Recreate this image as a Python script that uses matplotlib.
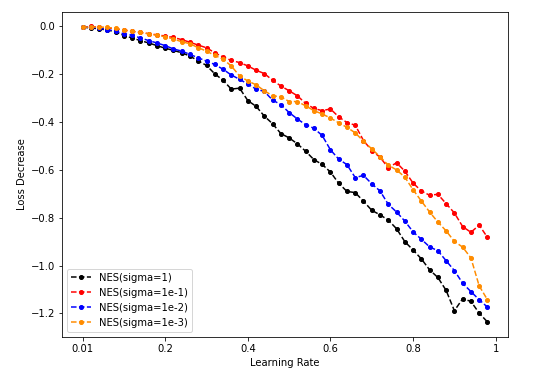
import matplotlib
matplotlib.use("Agg")
import matplotlib.pyplot as plt

# -----------------------------
# Datos
# -----------------------------
lr = [0.00, 0.02, 0.04, 0.06, 0.08, 0.10, 0.12, 0.14, 0.16, 0.18,
      0.20, 0.22, 0.24, 0.26, 0.28, 0.30, 0.32, 0.34, 0.36, 0.38,
      0.40, 0.42, 0.44, 0.46, 0.48, 0.50, 0.52, 0.54, 0.56, 0.58,
      0.60, 0.62, 0.64, 0.66, 0.68, 0.70, 0.72, 0.74, 0.76, 0.78,
      0.80, 0.82, 0.84, 0.86, 0.88, 0.90, 0.92, 0.94, 0.96, 0.98]

sigma_1 = [-0.003, -0.006, -0.010, -0.015, -0.022, -0.038, -0.048, -0.059, -0.069, -0.080,
           -0.091, -0.100, -0.110, -0.124, -0.144, -0.163, -0.198, -0.225, -0.262, -0.258,
           -0.310, -0.334, -0.375, -0.407, -0.448, -0.466, -0.491, -0.522, -0.557, -0.577,
           -0.609, -0.656, -0.690, -0.695, -0.731, -0.769, -0.788, -0.810, -0.846, -0.900,
           -0.935, -0.972, -1.018, -1.050, -1.104, -1.189, -1.139, -1.150, -1.199, -1.236]

sigma_1e1 = [-0.003, 0.000, -0.003, -0.006, -0.010, -0.015, -0.020, -0.025, -0.030, -0.035,
             -0.040, -0.046, -0.055, -0.066, -0.078, -0.089, -0.110, -0.128, -0.142, -0.151,
             -0.165, -0.183, -0.197, -0.225, -0.249, -0.269, -0.290, -0.322, -0.343, -0.352,
             -0.345, -0.378, -0.402, -0.413, -0.477, -0.519, -0.547, -0.591, -0.570, -0.605,
             -0.655, -0.688, -0.706, -0.702, -0.741, -0.780, -0.837, -0.861, -0.831, -0.882]

sigma_1e2 = [-0.003, -0.004, -0.006, -0.013, -0.020, -0.031, -0.037, -0.048, -0.059, -0.069,
             -0.080, -0.094, -0.103, -0.117, -0.131, -0.145, -0.159, -0.179, -0.203, -0.221,
             -0.241, -0.262, -0.272, -0.308, -0.327, -0.360, -0.387, -0.411, -0.426, -0.456,
             -0.516, -0.555, -0.578, -0.632, -0.623, -0.658, -0.688, -0.744, -0.776, -0.814,
             -0.859, -0.890, -0.922, -0.938, -0.980, -1.021, -1.074, -1.109, -1.143, -1.174]

sigma_1e3 = [-0.003, -0.002, -0.003, -0.004, -0.008, -0.015, -0.020, -0.025, -0.031, -0.037,
             -0.043, -0.052, -0.064, -0.072, -0.089, -0.103, -0.121, -0.137, -0.165, -0.207,
             -0.228, -0.244, -0.269, -0.290, -0.294, -0.314, -0.314, -0.332, -0.352, -0.366,
             -0.383, -0.403, -0.422, -0.445, -0.480, -0.512, -0.545, -0.580, -0.600, -0.630,
             -0.683, -0.730, -0.776, -0.818, -0.855, -0.899, -0.923, -0.968, -1.085, -1.143]

tick_pos = [0.0, 0.2, 0.4, 0.6, 0.8, 1.0]
tick_labels = ["0.01", "0.2", "0.4", "0.6", "0.8", "1"]

# -----------------------------
# Figura
# -----------------------------
fig = plt.figure(figsize=(541 / 72, 380 / 72), dpi=72)
ax = fig.add_axes([0.1152, 0.1139, 0.8232, 0.8553])

ax.plot(lr, sigma_1, "--o", color="black", markersize=4, label="NES(sigma=1)")
ax.plot(lr, sigma_1e1, "--o", color="red", markersize=4, label="NES(sigma=1e-1)")
ax.plot(lr, sigma_1e2, "--o", color="blue", markersize=4, label="NES(sigma=1e-2)")
ax.plot(lr, sigma_1e3, "--o", color="darkorange", markersize=4, label="NES(sigma=1e-3)")

ax.set_xticks(tick_pos)
ax.set_xticklabels(tick_labels)
ax.set_xlabel("Learning Rate")
ax.set_ylabel("Loss Decrease")
ax.legend(loc="lower left")

fig.savefig("out.png", dpi=72)
